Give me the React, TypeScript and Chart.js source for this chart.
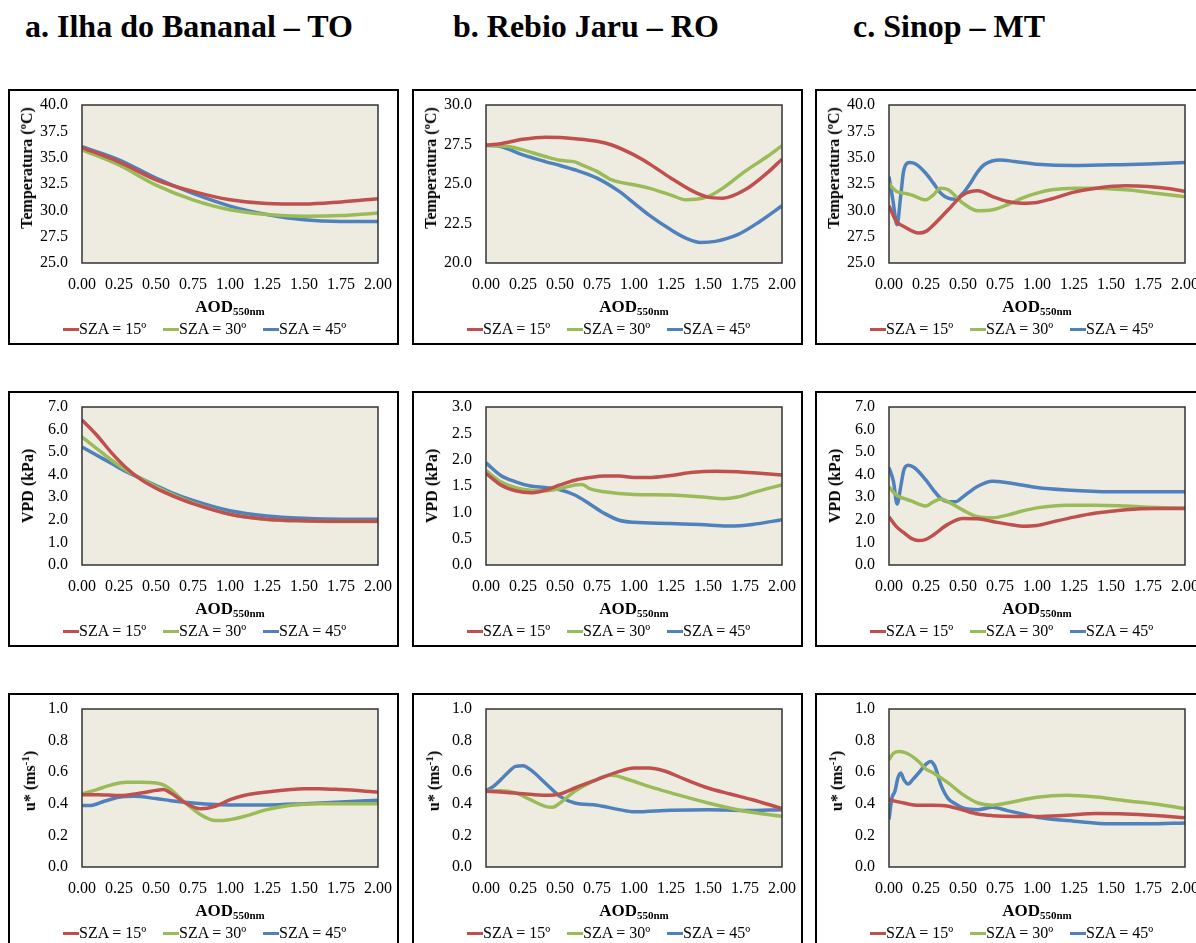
import React, { useEffect, useRef } from "react";
import { Chart, registerables } from "chart.js";
Chart.register(...registerables);

// ---------- DATA ----------
const SERIES_LABELS = ["SZA = 15º", "SZA = 30º", "SZA = 45º"];
const SERIES_COLORS = ["#C0504D", "#9BBB59", "#4F81BD"];
const PANEL_TITLES = ["a. Ilha do Bananal – TO", "b. Rebio Jaru – RO", "c. Sinop – MT"];

// Temperature – Ilha do Bananal
const tempA_x = [0, 0.25, 0.5, 0.75, 1, 1.25, 1.5, 1.75, 2];
const tempA_15 = [35.96, 34.6, 32.9, 31.8, 31.0, 30.65, 30.6, 30.8, 31.1];
const tempA_30 = [35.75, 34.3, 32.4, 31.0, 30.05, 29.6, 29.45, 29.5, 29.75];
const tempA_45 = [36.05, 34.8, 33.05, 31.6, 30.4, 29.6, 29.1, 28.95, 28.95];

// Temperature – Rebio Jaru
const tempB_x15 = [0, 0.1, 0.25, 0.4, 0.5, 0.6, 0.75, 0.85, 1.0, 1.1, 1.25, 1.4, 1.5, 1.6, 1.75, 1.9, 2.0];
const tempB_15 = [27.45, 27.55, 27.83, 27.96, 27.94, 27.87, 27.7, 27.47, 26.84, 26.3, 25.37, 24.53, 24.17, 24.1, 24.63, 25.7, 26.57];
const tempB_x30 = [0, 0.15, 0.25, 0.4, 0.5, 0.6, 0.65, 0.75, 0.85, 1.0, 1.1, 1.25, 1.35, 1.5, 1.6, 1.75, 1.9, 2.0];
const tempB_30 = [27.45, 27.37, 27.16, 26.74, 26.5, 26.4, 26.2, 25.8, 25.26, 24.95, 24.74, 24.3, 24.0, 24.2, 24.74, 25.8, 26.74, 27.43];
const tempB_x45 = [0, 0.1, 0.25, 0.4, 0.5, 0.6, 0.75, 0.9, 1.0, 1.1, 1.25, 1.35, 1.45, 1.55, 1.7, 1.85, 2.0];
const tempB_45 = [27.45, 27.37, 26.84, 26.42, 26.17, 25.9, 25.37, 24.53, 23.79, 23.05, 22.1, 21.58, 21.3, 21.37, 21.79, 22.63, 23.62];

// Temperature – Sinop
const tempC_x15 = [0, 0.05, 0.1, 0.2, 0.25, 0.3, 0.4, 0.5, 0.6, 0.7, 0.8, 0.9, 1.0, 1.1, 1.25, 1.4, 1.6, 1.75, 1.9, 2.0];
const tempC_15 = [30.43, 28.95, 28.47, 27.84, 28.0, 28.6, 30.05, 31.47, 31.85, 31.3, 30.84, 30.68, 30.75, 31.1, 31.73, 32.1, 32.33, 32.26, 32.04, 31.79];
const tempC_x30 = [0, 0.05, 0.1, 0.15, 0.25, 0.3, 0.35, 0.4, 0.5, 0.6, 0.7, 0.8, 0.9, 1.0, 1.1, 1.25, 1.4, 1.6, 1.8, 2.0];
const tempC_30 = [32.52, 31.8, 31.63, 31.47, 31.0, 31.47, 32.1, 31.95, 30.68, 29.96, 30.05, 30.53, 31.16, 31.63, 31.95, 32.1, 32.1, 31.95, 31.63, 31.3];
const tempC_x45 = [0, 0.027, 0.054, 0.08, 0.1, 0.14, 0.18, 0.25, 0.3, 0.35, 0.4, 0.45, 0.5, 0.55, 0.6, 0.65, 0.75, 0.85, 1.0, 1.25, 1.5, 1.75, 2.0];
const tempC_45 = [33.2, 30.9, 28.63, 31.5, 33.8, 34.53, 34.4, 33.5, 32.58, 31.63, 31.16, 31.06, 31.63, 32.58, 33.68, 34.4, 34.79, 34.63, 34.38, 34.25, 34.32, 34.4, 34.53];

// VPD – Ilha do Bananal
const vpdA_x = [0, 0.1, 0.2, 0.3, 0.4, 0.5, 0.6, 0.75, 1.0, 1.25, 1.5, 1.75, 2.0];
const vpdA_15 = [6.42, 5.75, 4.97, 4.3, 3.78, 3.4, 3.1, 2.72, 2.25, 2.03, 1.96, 1.94, 1.94];
const vpdA_30 = [5.67, 5.16, 4.64, 4.2, 3.83, 3.47, 3.15, 2.75, 2.25, 2.02, 1.95, 1.93, 1.93];
const vpdA_45 = [5.23, 4.86, 4.5, 4.13, 3.83, 3.52, 3.22, 2.86, 2.4, 2.17, 2.07, 2.03, 2.03];

// VPD – Rebio Jaru
const vpdB_x15 = [0, 0.1, 0.2, 0.3, 0.4, 0.5, 0.6, 0.7, 0.8, 0.9, 1.0, 1.1, 1.25, 1.4, 1.55, 1.7, 1.85, 2.0];
const vpdB_15 = [1.74, 1.52, 1.41, 1.37, 1.42, 1.52, 1.61, 1.66, 1.69, 1.69, 1.66, 1.66, 1.7, 1.76, 1.78, 1.77, 1.74, 1.71];
const vpdB_x30 = [0, 0.1, 0.2, 0.3, 0.4, 0.5, 0.6, 0.65, 0.7, 0.8, 1.0, 1.25, 1.5, 1.6, 1.7, 1.8, 1.9, 2.0];
const vpdB_30 = [1.79, 1.58, 1.47, 1.42, 1.41, 1.45, 1.52, 1.53, 1.45, 1.39, 1.34, 1.33, 1.28, 1.26, 1.29, 1.37, 1.45, 1.52];
const vpdB_x45 = [0, 0.1, 0.2, 0.3, 0.4, 0.5, 0.6, 0.7, 0.8, 0.9, 1.0, 1.25, 1.5, 1.65, 1.8, 2.0];
const vpdB_45 = [1.94, 1.7, 1.58, 1.5, 1.47, 1.43, 1.33, 1.16, 0.98, 0.85, 0.81, 0.79, 0.76, 0.74, 0.77, 0.86];

// VPD – Sinop
const vpdC_x15 = [0, 0.05, 0.1, 0.15, 0.2, 0.25, 0.3, 0.4, 0.5, 0.6, 0.7, 0.8, 0.9, 1.0, 1.1, 1.25, 1.4, 1.6, 1.8, 2.0];
const vpdC_15 = [2.14, 1.7, 1.43, 1.18, 1.08, 1.14, 1.33, 1.81, 2.06, 2.05, 1.93, 1.81, 1.72, 1.75, 1.9, 2.12, 2.3, 2.45, 2.5, 2.5];
const vpdC_x30 = [0, 0.05, 0.1, 0.15, 0.2, 0.25, 0.3, 0.35, 0.4, 0.5, 0.6, 0.7, 0.8, 0.9, 1.0, 1.2, 1.4, 1.6, 1.8, 2.0];
const vpdC_30 = [3.46, 3.1, 2.95, 2.84, 2.7, 2.61, 2.8, 2.92, 2.8, 2.43, 2.14, 2.09, 2.21, 2.39, 2.53, 2.65, 2.65, 2.61, 2.55, 2.52];
const vpdC_x45 = [0, 0.03, 0.055, 0.08, 0.1, 0.13, 0.17, 0.25, 0.3, 0.35, 0.4, 0.45, 0.5, 0.6, 0.7, 0.8, 0.9, 1.0, 1.2, 1.5, 1.75, 2.0];
const vpdC_45 = [4.32, 3.7, 2.7, 3.5, 4.2, 4.42, 4.32, 3.76, 3.32, 2.95, 2.8, 2.8, 3.02, 3.49, 3.71, 3.64, 3.54, 3.43, 3.32, 3.24, 3.24, 3.24];

// u* – Ilha do Bananal
const uA_x15 = [0, 0.1, 0.25, 0.4, 0.5, 0.55, 0.6, 0.7, 0.8, 0.9, 1.0, 1.1, 1.25, 1.5, 1.6, 1.75, 2.0];
const uA_15 = [0.458, 0.458, 0.452, 0.468, 0.485, 0.49, 0.468, 0.405, 0.368, 0.384, 0.426, 0.454, 0.475, 0.496, 0.496, 0.49, 0.475];
const uA_x30 = [0, 0.1, 0.2, 0.3, 0.4, 0.5, 0.55, 0.6, 0.7, 0.8, 0.9, 0.95, 1.0, 1.1, 1.25, 1.4, 1.6, 1.8, 2.0];
const uA_30 = [0.462, 0.49, 0.52, 0.536, 0.536, 0.532, 0.52, 0.49, 0.405, 0.332, 0.294, 0.294, 0.3, 0.321, 0.363, 0.389, 0.4, 0.4, 0.4];
const uA_x45 = [0, 0.05, 0.15, 0.25, 0.35, 0.5, 0.6, 0.75, 0.9, 1.0, 1.25, 1.5, 1.75, 2.0];
const uA_45 = [0.389, 0.389, 0.416, 0.441, 0.447, 0.433, 0.42, 0.405, 0.395, 0.393, 0.393, 0.401, 0.412, 0.422];

// u* – Rebio Jaru
const uB_x15 = [0, 0.1, 0.25, 0.4, 0.5, 0.6, 0.75, 0.9, 1.0, 1.1, 1.2, 1.35, 1.5, 1.65, 1.8, 2.0];
const uB_15 = [0.479, 0.475, 0.464, 0.454, 0.462, 0.5, 0.553, 0.605, 0.626, 0.626, 0.609, 0.553, 0.5, 0.462, 0.426, 0.37];
const uB_x30 = [0, 0.1, 0.2, 0.3, 0.4, 0.45, 0.5, 0.6, 0.7, 0.8, 0.85, 0.95, 1.1, 1.25, 1.5, 1.75, 2.0];
const uB_30 = [0.479, 0.483, 0.469, 0.426, 0.384, 0.378, 0.405, 0.479, 0.532, 0.574, 0.58, 0.557, 0.51, 0.469, 0.405, 0.353, 0.321];
const uB_x45 = [0, 0.05, 0.1, 0.15, 0.2, 0.25, 0.3, 0.4, 0.5, 0.6, 0.75, 0.9, 1.0, 1.25, 1.5, 1.75, 2.0];
const uB_45 = [0.483, 0.51, 0.553, 0.6, 0.637, 0.641, 0.616, 0.532, 0.447, 0.405, 0.391, 0.363, 0.349, 0.359, 0.363, 0.357, 0.363];

// u* – Sinop
const uC_x15 = [0, 0.1, 0.2, 0.3, 0.4, 0.5, 0.6, 0.7, 0.85, 1.0, 1.2, 1.4, 1.6, 1.8, 2.0];
const uC_15 = [0.426, 0.405, 0.391, 0.391, 0.385, 0.36, 0.335, 0.325, 0.32, 0.32, 0.328, 0.338, 0.336, 0.326, 0.311];
const uC_x30 = [0, 0.03, 0.07, 0.12, 0.2, 0.25, 0.3, 0.4, 0.5, 0.6, 0.7, 0.8, 1.0, 1.2, 1.4, 1.6, 1.8, 2.0];
const uC_30 = [0.679, 0.72, 0.731, 0.72, 0.668, 0.62, 0.595, 0.532, 0.458, 0.405, 0.391, 0.405, 0.441, 0.454, 0.443, 0.42, 0.399, 0.37];
const uC_x45 = [0, 0.02, 0.04, 0.06, 0.08, 0.1, 0.13, 0.16, 0.2, 0.25, 0.28, 0.31, 0.35, 0.4, 0.45, 0.5, 0.6, 0.7, 0.8, 0.9, 1.0, 1.25, 1.5, 1.75, 2.0];
const uC_45 = [0.3, 0.437, 0.479, 0.563, 0.595, 0.553, 0.525, 0.553, 0.595, 0.651, 0.668, 0.637, 0.521, 0.433, 0.399, 0.374, 0.363, 0.378, 0.357, 0.336, 0.315, 0.29, 0.273, 0.273, 0.279];

// axis ranges per panel row/column
const X_MIN = 0, X_MAX = 2, X_STEP = 0.25;
const TEMP_RANGES = [[25, 40, 2.5], [20, 30, 2.5], [25, 40, 2.5]];
const VPD_RANGES = [[0, 7, 1], [0, 3, 0.5], [0, 7, 1]];
const U_RANGES = [[0, 1, 0.2], [0, 1, 0.2], [0, 1, 0.2]];

// ---------- LAYOUT ----------
const FONT = "'Liberation Serif', 'Times New Roman', Times, serif";
const COL_LEFT = [8, 412, 815];
const ROW_TOP = [89, 391, 693];
const BOX_W = 391, BOX_H = 256;
const PLOT_LEFT = 74, PLOT_TOP = 16, PLOT_W = 296, PLOT_H = 158;
const YTITLE_DX = [19, 20, 22];
const YTITLE_CY = [79, 95, 88];
const TITLE_LEFT = [25, 453, 853];

type Series = [number[], number[]];
type Spec = { row: number; col: number; range: number[]; series: Series[] };

const SPECS: Spec[] = [
  { row: 0, col: 0, range: TEMP_RANGES[0], series: [[tempA_x, tempA_15], [tempA_x, tempA_30], [tempA_x, tempA_45]] },
  { row: 0, col: 1, range: TEMP_RANGES[1], series: [[tempB_x15, tempB_15], [tempB_x30, tempB_30], [tempB_x45, tempB_45]] },
  { row: 0, col: 2, range: TEMP_RANGES[2], series: [[tempC_x15, tempC_15], [tempC_x30, tempC_30], [tempC_x45, tempC_45]] },
  { row: 1, col: 0, range: VPD_RANGES[0], series: [[vpdA_x, vpdA_15], [vpdA_x, vpdA_30], [vpdA_x, vpdA_45]] },
  { row: 1, col: 1, range: VPD_RANGES[1], series: [[vpdB_x15, vpdB_15], [vpdB_x30, vpdB_30], [vpdB_x45, vpdB_45]] },
  { row: 1, col: 2, range: VPD_RANGES[2], series: [[vpdC_x15, vpdC_15], [vpdC_x30, vpdC_30], [vpdC_x45, vpdC_45]] },
  { row: 2, col: 0, range: U_RANGES[0], series: [[uA_x15, uA_15], [uA_x30, uA_30], [uA_x45, uA_45]] },
  { row: 2, col: 1, range: U_RANGES[1], series: [[uB_x15, uB_15], [uB_x30, uB_30], [uB_x45, uB_45]] },
  { row: 2, col: 2, range: U_RANGES[2], series: [[uC_x15, uC_15], [uC_x30, uC_30], [uC_x45, uC_45]] },
];

const plotFrame = {
  id: "plotFrame",
  beforeDraw(chart: any) {
    const { ctx, chartArea: a } = chart;
    ctx.save();
    ctx.fillStyle = "#EEECE1";
    ctx.fillRect(a.left, a.top, a.right - a.left, a.bottom - a.top);
    ctx.restore();
  },
  afterDraw(chart: any) {
    const { ctx, chartArea: a } = chart;
    ctx.save();
    ctx.strokeStyle = "#333333";
    ctx.lineWidth = 1.5;
    ctx.strokeRect(a.left, a.top, a.right - a.left, a.bottom - a.top);
    ctx.restore();
  },
};

function buildConfig(spec: Spec): any {
  const [yMin, yMax, yStep] = spec.range;
  return {
    type: "line",
    data: {
      datasets: spec.series.map(([xs, ys], i) => ({
        label: SERIES_LABELS[i],
        data: xs.map((x, j) => ({ x, y: ys[j] })),
        borderColor: SERIES_COLORS[i],
        backgroundColor: SERIES_COLORS[i],
        borderWidth: 3.5,
        pointRadius: 0,
        fill: false,
        cubicInterpolationMode: "monotone",
      })),
    },
    options: {
      animation: false,
      responsive: false,
      maintainAspectRatio: false,
      events: [],
      layout: {
        padding: {
          left: 0,
          top: PLOT_TOP,
          right: BOX_W - PLOT_LEFT - PLOT_W,
          bottom: BOX_H - PLOT_TOP - PLOT_H - 40,
        },
      },
      plugins: { legend: { display: false }, tooltip: { enabled: false }, title: { display: false } },
      scales: {
        x: {
          type: "linear",
          min: X_MIN,
          max: X_MAX,
          grid: { display: false, drawTicks: false },
          border: { display: false },
          ticks: {
            stepSize: X_STEP,
            autoSkip: false,
            maxRotation: 0,
            padding: 12,
            color: "#000",
            font: { family: FONT, size: 16 },
            callback: (v: number) => Number(v).toFixed(2),
          },
          afterFit: (s: any) => {
            s.height = 40;
            s.paddingLeft = 0;
            s.paddingRight = 0;
          },
        },
        y: {
          type: "linear",
          min: yMin,
          max: yMax,
          grid: { display: false, drawTicks: false },
          border: { display: false },
          ticks: {
            stepSize: yStep,
            autoSkip: false,
            padding: 14,
            color: "#000",
            font: { family: FONT, size: 16 },
            callback: (v: number) => Number(v).toFixed(1),
          },
          afterFit: (s: any) => {
            s.width = PLOT_LEFT;
            s.paddingTop = 0;
            s.paddingBottom = 0;
          },
        },
      },
    },
    plugins: [plotFrame],
  };
}

function YTitle({ row }: { row: number }) {
  if (row === 0) return <>Temperatura (ºC)</>;
  if (row === 1) return <>VPD (kPa)</>;
  return (
    <>
      u* (ms<sup style={{ fontSize: "11px", verticalAlign: "6px", lineHeight: 0 }}>-1</sup>)
    </>
  );
}

function Panel({ spec }: { spec: Spec }) {
  const ref = useRef<HTMLCanvasElement>(null);
  useEffect(() => {
    const chart = new Chart(ref.current as HTMLCanvasElement, buildConfig(spec));
    return () => chart.destroy();
  }, [spec]);
  const left = COL_LEFT[spec.col];
  const top = ROW_TOP[spec.row];
  return (
    <>
      <div
        style={{
          position: "absolute",
          left,
          top,
          width: BOX_W,
          height: BOX_H,
          border: "2px solid #000",
          boxSizing: "border-box",
        }}
      />
      <canvas
        ref={ref}
        width={BOX_W}
        height={BOX_H}
        style={{ position: "absolute", left, top, width: BOX_W, height: BOX_H }}
      />
      <div
        style={{
          position: "absolute",
          left: left + YTITLE_DX[spec.row],
          top: top + YTITLE_CY[spec.row],
          transform: "translate(-50%, -50%) rotate(-90deg)",
          whiteSpace: "nowrap",
          fontFamily: FONT,
          fontWeight: "bold",
          fontSize: "16px",
          lineHeight: "16px",
          color: "#000",
        }}
      >
        <YTitle row={spec.row} />
      </div>
      <div
        style={{
          position: "absolute",
          left: left + PLOT_LEFT + PLOT_W / 2,
          top: top + 220,
          transform: "translate(-50%, -50%)",
          whiteSpace: "nowrap",
          fontFamily: FONT,
          fontWeight: "bold",
          fontSize: "17px",
          lineHeight: "17px",
          color: "#000",
        }}
      >
        AOD<span style={{ fontSize: "11px", verticalAlign: "-3px" }}>550nm</span>
      </div>
      <div
        style={{
          position: "absolute",
          left: left + 55,
          top: top + 240 - 9,
          height: 18,
          display: "flex",
          alignItems: "center",
          fontFamily: FONT,
          fontSize: "16px",
          lineHeight: "18px",
          color: "#000",
          whiteSpace: "nowrap",
        }}
      >
        {SERIES_LABELS.map((lab, i) => (
          <div key={lab} style={{ width: 100, display: "flex", alignItems: "center" }}>
            <span style={{ display: "inline-block", width: 16, height: 3, background: SERIES_COLORS[i] }} />
            <span>{lab}</span>
          </div>
        ))}
      </div>
    </>
  );
}

export default function App() {
  return (
    <div
      style={{
        position: "fixed",
        left: 0,
        top: 0,
        width: 1196,
        height: 943,
        overflow: "hidden",
        background: "#fff",
      }}
    >
      {PANEL_TITLES.map((t, i) => (
        <div
          key={t}
          style={{
            position: "absolute",
            left: TITLE_LEFT[i],
            top: 10,
            fontFamily: FONT,
            fontWeight: "bold",
            fontSize: "32px",
            lineHeight: "32px",
            whiteSpace: "nowrap",
            color: "#000",
          }}
        >
          {t}
        </div>
      ))}
      {SPECS.map((s) => (
        <Panel key={`${s.row}-${s.col}`} spec={s} />
      ))}
    </div>
  );
}
